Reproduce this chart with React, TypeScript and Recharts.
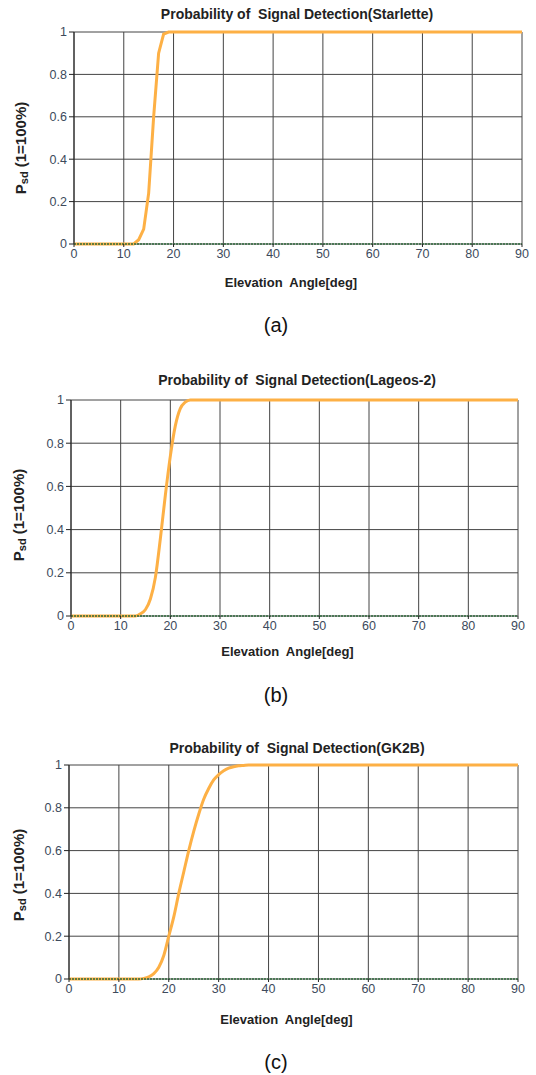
import { CartesianGrid, Line, LineChart, XAxis, YAxis } from "recharts";

const xTicks = [0, 10, 20, 30, 40, 50, 60, 70, 80, 90];
const yTicks = [0, 0.2, 0.4, 0.6, 0.8, 1];

const starletteAngles = [0, 12, 13, 14, 15, 16, 17, 18, 19, 90];
const starletteValues = [0, 0, 0.02, 0.07, 0.24, 0.6, 0.9, 0.99, 1, 1];

const lageosAngles = [0, 13, 14, 15, 16, 17, 18, 19, 20, 21, 22, 23, 24, 90];
const lageosValues = [0, 0, 0.01, 0.03, 0.08, 0.18, 0.36, 0.56, 0.74, 0.88, 0.96, 0.99, 1, 1];

const gk2bAngles = [0, 14, 15, 16, 17, 18, 19, 20, 21, 22, 23, 24, 25, 26, 27, 28, 29, 30, 31, 32, 33, 34, 35, 36, 90];
const gk2bValues = [
  0, 0, 0.003, 0.01, 0.025, 0.055, 0.11, 0.2, 0.29, 0.4, 0.5, 0.6, 0.69, 0.77, 0.84, 0.89, 0.93, 0.955,
  0.973, 0.985, 0.992, 0.996, 0.998, 1, 1,
];

const font = "'Liberation Sans', Arial, sans-serif";
const tickColor = "#3d4a5c";
const gridColor = "#444";

function toRows(angles: number[], values: number[]) {
  return angles.map((a, i) => ({ angle: a, psd: values[i], base: 0 }));
}

interface Box {
  left: number;
  right: number;
  top: number;
  bottom: number;
}

function Panel({
  title,
  caption,
  angles,
  values,
  curve,
  plot,
  titleY,
  xLabelY,
  yLabelX,
  yLabelY,
  captionY,
}: {
  title: string;
  caption: string;
  angles: number[];
  values: number[];
  curve: "linear" | "monotone";
  plot: Box;
  titleY: number;
  xLabelY: number;
  yLabelX: number;
  yLabelY: number;
  captionY: number;
}) {
  const data = toRows(angles, values);
  const padTop = 10;
  const xAxisH = 26;
  const h = plot.bottom - plot.top + padTop + xAxisH;
  const cx = (plot.left + plot.right) / 2;
  return (
    <>
      <div
        style={{
          position: "absolute",
          left: 297 - 250,
          width: 500,
          top: titleY - 8,
          textAlign: "center",
          font: `bold 14px ${font}`,
          color: "#222",
          whiteSpace: "pre",
          lineHeight: "16px",
        }}
      >
        {title}
      </div>
      <div style={{ position: "absolute", left: 0, top: plot.top - padTop }}>
        <LineChart
          width={536}
          height={h}
          data={data}
          margin={{ top: padTop, right: 536 - plot.right, bottom: 0, left: 0 }}
        >
          <CartesianGrid stroke={gridColor} strokeWidth={1} />
          <XAxis
            dataKey="angle"
            type="number"
            domain={[0, 90]}
            ticks={xTicks}
            height={xAxisH}
            tickSize={3}
            stroke="#222"
            tick={{ fill: tickColor, fontSize: 12.5, fontFamily: font }}
            axisLine={false}
          />
          <YAxis
            type="number"
            domain={[0, 1]}
            ticks={yTicks}
            width={plot.left}
            tickSize={5}
            stroke="#222"
            tick={{ fill: tickColor, fontSize: 12.5, fontFamily: font }}
          />
          <Line
            dataKey="psd"
            type={curve}
            stroke="#fdb045"
            strokeWidth={3}
            dot={false}
            isAnimationActive={false}
          />
          <Line
            dataKey="base"
            type="linear"
            stroke="#2f6b3c"
            strokeWidth={1.5}
            strokeDasharray="2 1"
            dot={false}
            isAnimationActive={false}
          />
        </LineChart>
      </div>
      <div
        style={{
          position: "absolute",
          left: cx - 7 - 150,
          width: 300,
          top: xLabelY - 8,
          textAlign: "center",
          font: `bold 13px ${font}`,
          color: "#222",
          whiteSpace: "pre",
          lineHeight: "16px",
        }}
      >
        {"Elevation  Angle[deg]"}
      </div>
      <div
        style={{
          position: "absolute",
          left: yLabelX - 100,
          top: yLabelY - 10,
          width: 200,
          height: 20,
          lineHeight: "20px",
          textAlign: "center",
          transform: "rotate(-90deg)",
          font: `bold 15px ${font}`,
          color: "#222",
        }}
      >
        P<sub style={{ fontSize: 11, verticalAlign: "-2px" }}>sd</sub> (1=100%)
      </div>
      <div
        style={{
          position: "absolute",
          left: 0,
          width: 552,
          top: captionY - 13,
          textAlign: "center",
          font: `20px ${font}`,
          color: "#111",
          lineHeight: "26px",
        }}
      >
        {caption}
      </div>
    </>
  );
}

export default function App() {
  return (
    <div
      style={{
        position: "absolute",
        left: 0,
        top: 0,
        width: 536,
        height: 1075,
        background: "#fff",
        overflow: "hidden",
      }}
    >
      <Panel
        title="Probability of  Signal Detection(Starlette)"
        caption="(a)"
        angles={starletteAngles}
        values={starletteValues}
        curve="linear"
        plot={{ left: 74, right: 522, top: 32, bottom: 244 }}
        titleY={14}
        xLabelY={283}
        yLabelX={22}
        yLabelY={148}
        captionY={325}
      />
      <Panel
        title="Probability of  Signal Detection(Lageos-2)"
        caption="(b)"
        angles={lageosAngles}
        values={lageosValues}
        curve="monotone"
        plot={{ left: 71, right: 518, top: 400, bottom: 616 }}
        titleY={380}
        xLabelY={652}
        yLabelX={20}
        yLabelY={515}
        captionY={695}
      />
      <Panel
        title="Probability of  Signal Detection(GK2B)"
        caption="(c)"
        angles={gk2bAngles}
        values={gk2bValues}
        curve="monotone"
        plot={{ left: 69, right: 518, top: 765, bottom: 979 }}
        titleY={748}
        xLabelY={1020}
        yLabelX={20}
        yLabelY={875}
        captionY={1062}
      />
    </div>
  );
}
